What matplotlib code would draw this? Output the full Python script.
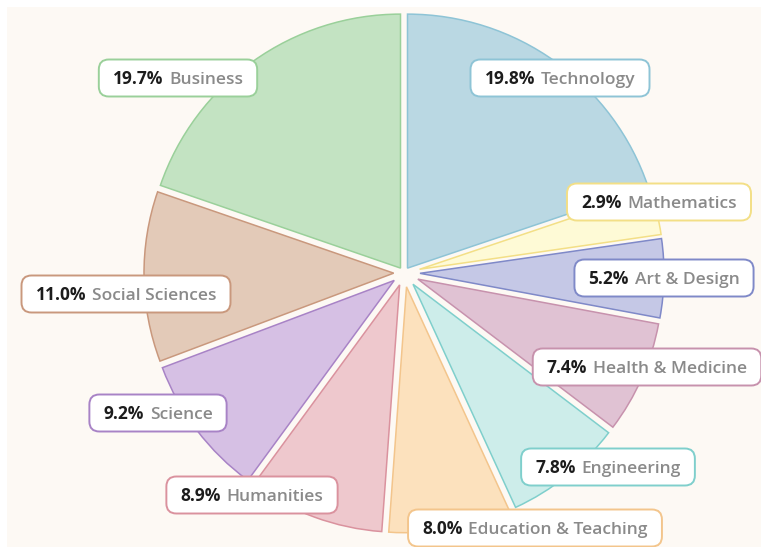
import numpy as np
import matplotlib.pyplot as plt
from matplotlib.patches import FancyBboxPatch, Rectangle

plt.rcParams['font.family'] = ['Open Sans', 'DejaVu Sans']

fields = ['Technology', 'Mathematics', 'Art & Design', 'Health & Medicine', 'Engineering',
          'Education & Teaching', 'Humanities', 'Science', 'Social Sciences', 'Business']
shares = [19.8, 2.9, 5.2, 7.4, 7.8, 8.0, 8.9, 9.2, 11.0, 19.7]

fills = ['#bad8e3', '#fefad6', '#c5c8e6', '#e0c2d3', '#cdedea',
         '#fce1bd', '#eec8cd', '#d6c0e4', '#e3cab8', '#c3e3c2']
edges = ['#8ec4d6', '#f3df86', '#7f89c8', '#c792ad', '#7fcfcc',
         '#f3c58c', '#da929e', '#a883c6', '#c9987d', '#9ad09a']

# label box centres, picture pixels (x from left, y from top)
label_centers = [(560, 78), (659, 202), (664, 278), (647, 367), (608, 467),
                 (535, 528), (252, 495), (158, 413), (126, 294), (178, 78)]

W, H = 761, 547
cream = '#fdf9f4'

fig = plt.figure(figsize=(W / 100, H / 100), dpi=100)
fig.patch.set_facecolor('white')
ax = fig.add_axes([0, 0, 1, 1])

cx, cy, R = 404, H - 273, 260
gap = 7.0

wedges, _ = ax.pie(shares, colors=fills, startangle=90, counterclock=False,
                   center=(cx, cy), radius=R, wedgeprops=dict(linewidth=1.1))
ax.set_xlim(0, W)
ax.set_ylim(0, H)
ax.axis('off')
ax.add_patch(Rectangle((7, 0), W - 7, H - 7, facecolor=cream, edgecolor='none', zorder=0))

# pull each slice off the centre so the gaps have an even width
for w, ec in zip(wedges, edges):
    half = np.radians((w.theta2 - w.theta1) / 2)
    mid = np.radians((w.theta2 + w.theta1) / 2)
    d = min(gap / 2 / np.sin(half), 16)
    w.set_center((cx + d * np.cos(mid), cy + d * np.sin(mid)))
    w.set_radius(R - d)
    w.set_edgecolor(ec)
    w.set_zorder(1)

fs = 12.5
fig.canvas.draw()
rend = fig.canvas.get_renderer()

for name, val, ec, (lx, ly) in zip(fields, shares, edges, label_centers):
    yc = H - ly
    t1 = ax.text(0, 0, f'{val:.1f}%', fontsize=fs, fontweight='bold', color='#1c1c1c',
                 ha='left', va='baseline', zorder=4)
    t2 = ax.text(0, 0, name, fontsize=fs, fontweight='semibold', color='#8a8a8a',
                 ha='left', va='baseline', zorder=4)
    w1 = t1.get_window_extent(rend).width
    w2 = t2.get_window_extent(rend).width
    sp = 6
    tw = w1 + sp + w2
    x0 = lx - tw / 2
    base = yc - 6.2
    t1.set_position((x0, base))
    t2.set_position((x0 + w1 + sp, base))
    padx, h = 14, 37
    box = FancyBboxPatch((x0 - padx, yc - h / 2), tw + 2 * padx, h,
                         boxstyle='round,pad=0,rounding_size=10',
                         facecolor='white', edgecolor=ec, linewidth=1.4, zorder=3)
    ax.add_patch(box)

fig.savefig('out.png', dpi=100, facecolor=fig.get_facecolor())
